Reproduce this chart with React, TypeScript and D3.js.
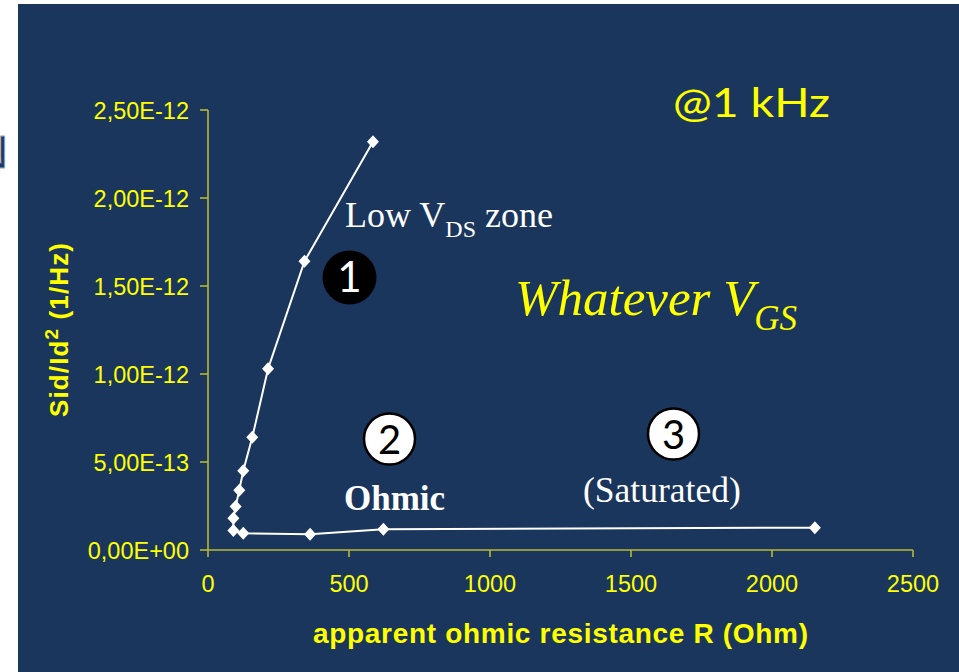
import React from "react";
import * as d3 from "d3";

// Data: apparent ohmic resistance R (Ohm) vs Sid/Id^2 (1/Hz)
const resistance = [585, 342, 213, 157, 125, 111, 98, 90, 90, 125, 362, 622, 2152];
const noise = [2.32e-12, 1.64e-12, 1.03e-12, 0.64e-12, 0.45e-12, 0.34e-12, 0.247e-12, 0.18e-12, 0.111e-12, 0.095e-12, 0.089e-12, 0.118e-12, 0.127e-12];
const xTicks = [0, 500, 1000, 1500, 2000, 2500];
const yTicks = [0, 0.5e-12, 1.0e-12, 1.5e-12, 2.0e-12, 2.5e-12];

const W = 959;
const H = 672;
const BG = "#1a365d";
const YEL = "#ffff00";
const AXIS = "#b9b834";

function fmtSci(v: number): string {
  if (v === 0) return "0,00E+00";
  let e = Math.floor(Math.log10(v) + 1e-9);
  const m = v / Math.pow(10, e);
  const sign = e < 0 ? "-" : "+";
  const ae = Math.abs(e);
  return m.toFixed(2).replace(".", ",") + "E" + sign + (ae < 10 ? "0" + ae : String(ae));
}

export default function App() {
  const x = d3.scaleLinear().domain([0, 2500]).range([208, 913]);
  const y = d3.scaleLinear().domain([0, 2.5e-12]).range([550, 110]);
  const pts = resistance.map((r, i) => [x(r), y(noise[i])] as [number, number]);
  const line = d3.line()(pts) || "";
  const diamond = "M0,-6.5L6,0L0,6.5L-6,0Z";
  const sans = "'Liberation Sans', Arial, sans-serif";
  const serif = "'Liberation Serif', 'Times New Roman', serif";
  const calibri = "Lato, 'Open Sans', sans-serif";

  return (
    <svg width={W} height={H} style={{ position: "absolute", left: 0, top: 0, display: "block" }}>
      <rect x={0} y={0} width={W} height={H} fill="#ffffff" />
      <text x={-25} y={168} fontFamily={sans} fontSize={46} fill="#1d3a66" stroke="#9aa6b8" strokeWidth={0.8}>N</text>
      <rect x={18} y={4} width={W - 18} height={H - 4} fill={BG} />

      {/* axes */}
      <line x1={x(0)} x2={x(2500)} y1={y(0)} y2={y(0)} stroke={AXIS} strokeWidth={1.6} />
      <line x1={x(0)} x2={x(0)} y1={y(0)} y2={y(2.5e-12)} stroke={AXIS} strokeWidth={1.6} />
      {yTicks.map((t) => (
        <g key={"y" + t}>
          <line x1={x(0) - 8} x2={x(0)} y1={y(t)} y2={y(t)} stroke={AXIS} strokeWidth={1.6} />
          <text x={189} y={y(t) + 8.5} textAnchor="end" fontFamily={sans} fontSize={23.5} fill={YEL}>{fmtSci(t)}</text>
        </g>
      ))}
      {xTicks.map((t) => (
        <g key={"x" + t}>
          <line x1={x(t)} x2={x(t)} y1={y(0)} y2={y(0) + 7} stroke={AXIS} strokeWidth={1.6} />
          <text x={x(t)} y={591.5} textAnchor="middle" fontFamily={sans} fontSize={23.5} fill={YEL}>{t}</text>
        </g>
      ))}

      {/* axis titles */}
      <text x={560.5} y={643} textAnchor="middle" fontFamily={sans} fontWeight="bold" fontSize={28} fill={YEL} textLength={495}>
        apparent ohmic resistance R (Ohm)
      </text>
      <text transform="translate(67.5,330) rotate(-90)" textAnchor="middle" fontFamily={sans} fontWeight="bold" fontSize={26} fill={YEL} textLength={174}>
        Sid/Id<tspan dy={-10} fontSize={19}>2</tspan><tspan dy={10}> (1/Hz)</tspan>
      </text>

      {/* series */}
      <path d={line} fill="none" stroke="#ffffff" strokeWidth={2} />
      {pts.map((p, i) => (
        <path key={i} d={diamond} transform={`translate(${p[0]},${p[1]})`} fill="#ffffff" />
      ))}

      {/* annotations */}
      <text x={673} y={117} fontFamily={calibri} fontSize={41} fill={YEL} textLength={157} lengthAdjust="spacingAndGlyphs">@1 kHz</text>
      <text x={515} y={315} fontFamily={serif} fontStyle="italic" fontSize={51} fill={YEL}>
        Whatever V<tspan dy={15} fontSize={35}>GS</tspan>
      </text>
      <text x={345} y={227} fontFamily={serif} fontSize={36} fill="#ffffff">
        Low V<tspan dy={10} fontSize={24}>DS</tspan><tspan dy={-10}> zone</tspan>
      </text>
      <text x={344} y={510} fontFamily={serif} fontWeight="bold" fontSize={35} fill="#ffffff">Ohmic</text>
      <text x={583} y={502} fontFamily={serif} fontSize={35.5} fill="#ffffff">(Saturated)</text>

      <circle cx={349.5} cy={277.5} r={27} fill="#000000" />
      <text x={349.5} y={292} textAnchor="middle" fontFamily={calibri} fontSize={42} fill="#ffffff">1</text>
      <circle cx={389.5} cy={439} r={25.5} fill="#ffffff" stroke="#000000" strokeWidth={2.5} />
      <text x={389.5} y={453.5} textAnchor="middle" fontFamily={calibri} fontSize={40} fill="#000000">2</text>
      <circle cx={673.5} cy={434} r={25.5} fill="#ffffff" stroke="#000000" strokeWidth={2.5} />
      <text x={673.5} y={448.5} textAnchor="middle" fontFamily={calibri} fontSize={40} fill="#000000">3</text>
    </svg>
  );
}
